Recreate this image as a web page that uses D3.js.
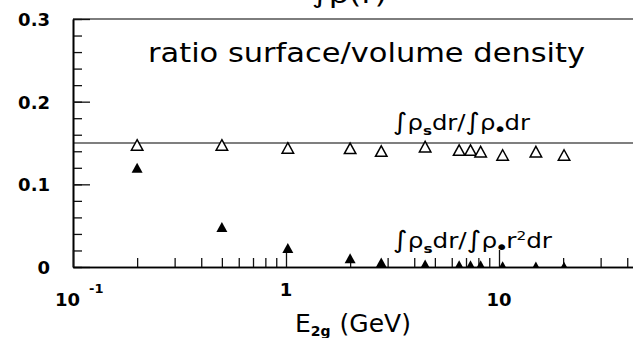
<!DOCTYPE html>
<html><head><meta charset="utf-8">
<script src="https://cdn.jsdelivr.net/npm/d3@7"></script>
<style>body{margin:0;background:#fff}svg{display:block}</style>
</head><body>
<script>
// Energies E_2g (GeV) of the computed points
const energies = [0.2, 0.5, 1.02, 2.0, 2.8, 4.5, 6.5, 7.35, 8.2, 10.4, 14.9, 20.2];
// ∫ρs dr / ∫ρ• dr  (open triangles)
const ratioLinear = [0.1476, 0.1476, 0.144, 0.1436, 0.1403, 0.1456, 0.1415, 0.1415, 0.1395, 0.1355, 0.1395, 0.1355];
// ∫ρs dr / ∫ρ• r² dr  (filled triangles)
const ratioQuad = [0.12, 0.0484, 0.023, 0.0105, 0.0055, 0.003, 0.002, 0.002, 0.002, 0.001, 0.0005, 0.0003];
// horizontal reference level
const referenceLevel = 0.15;

const yMajorTicks = [0, 0.1, 0.2, 0.3];
const yTickLabels = ["0", "0.1", "0.2", "0.3"];
const xMajorTicks = [0.1, 1, 10];
const xTickLabels = ["10", "1", "10"];
const xTickExponents = ["-1", "", ""];

const W = 633, H = 338;
const svg = d3.select("body").append("svg").attr("width", W).attr("height", H);

const padLeft = 73, padTop = 19, padBottom = 267, decade = 213;
const x = d3.scaleLog().domain([0.1, 100]).range([padLeft, padLeft + 3 * decade]);
const y = d3.scaleLinear().domain([0, 0.3]).range([padBottom, padTop]);

const yMinor = d3.range(0, 0.3001, 0.02).map(v => +v.toFixed(2));
const xMinor = [];
[0.1, 1, 10].forEach(d => { for (let k = 2; k <= 9; k++) xMinor.push(+(d * k).toFixed(3)); });

// plot title, running off the top edge of the canvas
svg.append("text").attr("x", 312).attr("y", 3).attr("font-family", "'DejaVu Sans', sans-serif")
  .attr("font-size", 24).attr("textLength", 75).attr("lengthAdjust", "spacingAndGlyphs")
  .attr("fill", "#000").text("∫ρ(r)");

// top frame line
svg.append("line").attr("x1", padLeft).attr("x2", x.range()[1])
  .attr("y1", y(0.3)).attr("y2", y(0.3)).attr("stroke", "#7d7d7d").attr("stroke-width", 2);

// reference line
svg.append("line").attr("x1", padLeft).attr("x2", x.range()[1])
  .attr("y1", y(referenceLevel)).attr("y2", y(referenceLevel))
  .attr("stroke", "#555").attr("stroke-width", 1.3);

const tickFont = "'DejaVu Sans', sans-serif";

// y axis
const yAxisG = svg.append("g").attr("transform", `translate(${padLeft},0)`);
yAxisG.append("g").call(d3.axisLeft(y).tickValues(yMinor).tickSize(-9).tickSizeOuter(0).tickFormat(""));
yAxisG.append("g").call(d3.axisLeft(y).tickValues(yMajorTicks).tickSize(-17).tickSizeOuter(0)
  .tickPadding(23).tickFormat((d, i) => yTickLabels[i]));
yAxisG.selectAll("text").attr("font-family", tickFont).attr("font-weight", "bold")
  .attr("font-size", 18).attr("fill", "#000").attr("dy", "0.36em");

// x axis
const xAxisG = svg.append("g").attr("transform", `translate(0,${padBottom})`);
xAxisG.append("g").call(d3.axisBottom(x).tickValues(xMinor).tickSize(-9).tickSizeOuter(0).tickFormat(""));
xAxisG.append("g").call(d3.axisBottom(x).tickValues(xMajorTicks).tickSize(-17).tickSizeOuter(0).tickFormat(""));
svg.selectAll(".domain").attr("stroke", "#000").attr("stroke-width", 1.6);
svg.selectAll(".tick line").attr("stroke", "#111").attr("stroke-width", 1.3);

// x tick labels
xMajorTicks.forEach((v, i) => {
  const t = svg.append("text").attr("font-family", tickFont).attr("font-weight", "bold")
    .attr("font-size", 18).attr("fill", "#000");
  if (xTickExponents[i]) {
    t.attr("x", x(v) - 18).attr("y", 306).attr("text-anchor", "start");
    t.append("tspan").text(xTickLabels[i]);
    t.append("tspan").attr("dx", 9).attr("dy", -13).attr("font-size", 13).text(xTickExponents[i]);
  } else if (v === 1) {
    t.attr("x", x(v)).attr("y", 296).attr("text-anchor", "middle").text(xTickLabels[i]);
  } else {
    t.attr("x", x(v)).attr("y", 306).attr("text-anchor", "middle").text(xTickLabels[i]);
  }
});

// triangle marker with its box centred on the point
const triangle = (w, h) => ({
  draw(ctx) {
    ctx.moveTo(0, -h / 2); ctx.lineTo(w / 2, h / 2); ctx.lineTo(-w / 2, h / 2); ctx.closePath();
  }
});

svg.append("defs").append("clipPath").attr("id", "plotArea").append("rect")
  .attr("x", padLeft).attr("y", padTop).attr("width", W).attr("height", padBottom - padTop);

const marks = svg.append("g").attr("clip-path", "url(#plotArea)");
marks.selectAll("path.open").data(energies).join("path").attr("class", "open")
  .attr("transform", (d, i) => `translate(${x(d)},${y(ratioLinear[i])})`)
  .attr("d", d3.symbol().type(triangle(11.5, 10.5)))
  .attr("fill", "#fff").attr("stroke", "#000").attr("stroke-width", 1.5);
marks.selectAll("path.filled").data(energies).join("path").attr("class", "filled")
  .attr("transform", (d, i) => `translate(${x(d)},${y(ratioQuad[i])})`)
  .attr("d", d3.symbol().type(triangle(11, 10)))
  .attr("fill", "#000");

const textFont = "'DejaVu Sans', sans-serif";
svg.append("text").attr("x", 148).attr("y", 62).attr("font-family", textFont)
  .attr("font-size", 26).attr("textLength", 437).attr("lengthAdjust", "spacingAndGlyphs")
  .attr("fill", "#000").text("ratio surface/volume density");

function ratioLabel(xp, yp, squared, len) {
  const t = svg.append("text").attr("x", xp).attr("y", yp).attr("font-family", textFont)
    .attr("font-size", 21).attr("fill", "#000");
  t.append("tspan").attr("font-size", 24).text("∫");
  t.append("tspan").text("ρ");
  t.append("tspan").attr("dy", 5).attr("font-size", 13).attr("font-weight", "bold").text("s");
  t.append("tspan").attr("dy", -5).text("dr/");
  t.append("tspan").attr("font-size", 24).text("∫");
  t.append("tspan").text("ρ");
  t.append("tspan").attr("dy", 6).attr("font-size", 20).attr("dx", -2).text("•");
  if (squared) {
    t.append("tspan").attr("dy", -6).attr("dx", -2).text("r");
    t.append("tspan").attr("dy", -8).attr("font-size", 13).text("2");
    t.append("tspan").attr("dy", 8).text("dr");
  } else {
    t.append("tspan").attr("dy", -6).attr("dx", -2).text("dr");
  }
  t.attr("textLength", len).attr("lengthAdjust", "spacingAndGlyphs");
}
ratioLabel(393, 130, false, 137);
ratioLabel(393, 248, true, 159);

// x axis title
const xt = svg.append("text").attr("x", 295).attr("y", 332).attr("font-family", textFont)
  .attr("font-size", 25).attr("fill", "#000");
xt.append("tspan").text("E");
xt.append("tspan").attr("dy", 4).attr("font-size", 14).attr("font-weight", "bold").text("2g");
xt.append("tspan").attr("dy", -4).attr("dx", 9).text("(GeV)");
</script>
</body></html>
